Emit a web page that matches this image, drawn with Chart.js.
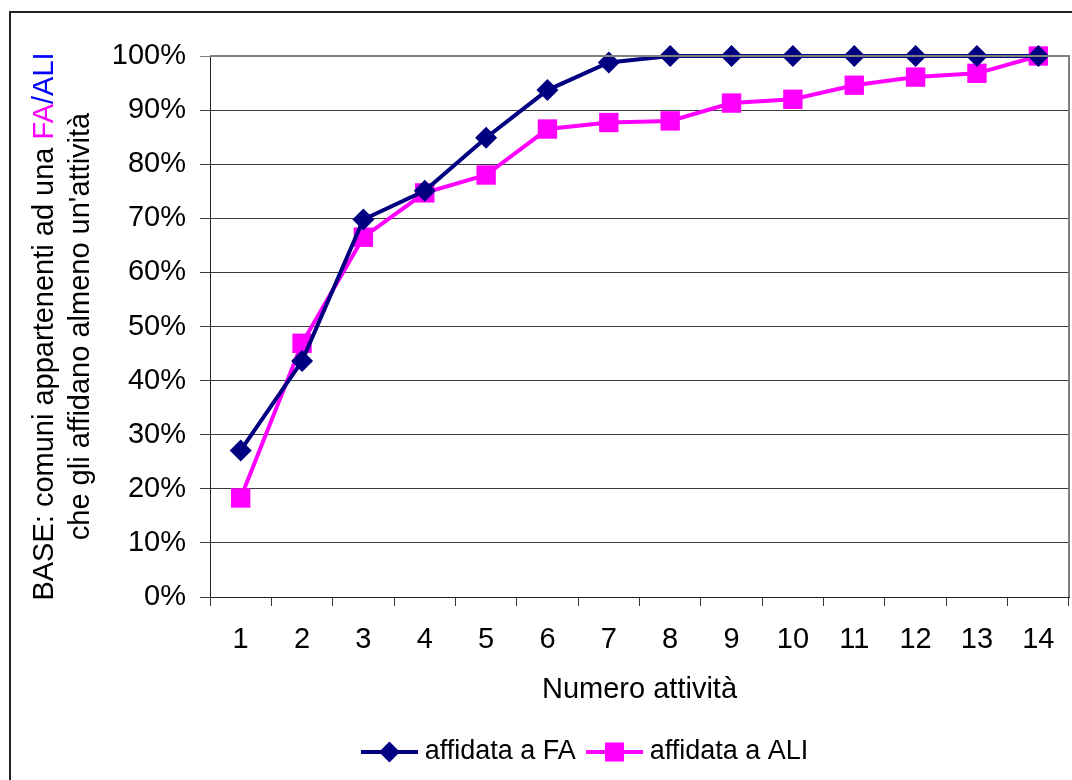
<!DOCTYPE html>
<html>
<head>
<meta charset="utf-8">
<script src="https://cdn.jsdelivr.net/npm/chart.js@4.4.1/dist/chart.umd.min.js"></script>
<style>
  html, body { margin: 0; padding: 0; background: #fff; overflow: hidden; }
  #wrap { position: relative; width: 1072px; height: 780px; overflow: hidden; }
  #frame { position: absolute; left: 9px; top: 11px; width: 1200px; height: 900px;
           border-left: 2px solid #222; border-top: 2px solid #222; }
  #c { position: absolute; left: 0; top: 0; }
</style>
</head>
<body>
<div id="wrap">
  <div id="frame"></div>
  <canvas id="c" width="1072" height="780"></canvas>
</div>
<script>
// Number of activities entrusted (x axis)
const categories = ['1', '2', '3', '4', '5', '6', '7', '8', '9', '10', '11', '12', '13', '14'];

// Cumulative share of municipalities (%)
const affidataFA  = [27.1, 43.6, 69.8, 75.1, 84.9, 93.7, 98.8, 100, 100, 100, 100, 100, 100, 100];
const affidataALI = [18.3, 46.9, 66.5, 74.7, 78.0, 86.5, 87.7, 88.0, 91.3, 92.0, 94.6, 96.1, 96.8, 100];

const seriesNames = ['affidata a FA', 'affidata a ALI'];
const xTitle = 'Numero attività';
// y axis title, split in coloured runs
const yTitleLines = [
  [ { text: 'BASE: comuni appartenenti ad una ', color: '#000000' },
    { text: 'FA', color: '#FF00FF' },
    { text: '/ALI', color: '#0000FF' } ],
  [ { text: "che gli affidano almeno un'attività", color: '#000000' } ]
];

const NAVY = '#000080';
const MAGENTA = '#FF00FF';
const FONT = '"Liberation Sans", Arial, Helvetica, sans-serif';
const FS = 29;        // axis ticks and titles
const FS_LEGEND = 27; // legend entries

// legend swatches: a short line with the series marker on it
function legendSwatch(color, shape) {
  const cv = document.createElement('canvas');
  cv.width = 64; cv.height = 24;
  const g = cv.getContext('2d');
  g.strokeStyle = color; g.lineWidth = 4;
  g.beginPath(); g.moveTo(7, 12); g.lineTo(64, 12); g.stroke();
  g.fillStyle = color;
  g.beginPath();
  const cx = 35.5;
  if (shape === 'diamond') {
    g.moveTo(cx, 1.5); g.lineTo(cx + 10.5, 12); g.lineTo(cx, 22.5); g.lineTo(cx - 10.5, 12);
  } else {
    g.rect(cx - 9.5, 2.5, 19, 19);
  }
  g.closePath(); g.fill();
  return cv;
}
const swatches = [legendSwatch(NAVY, 'diamond'), legendSwatch(MAGENTA, 'square')];

// rotated, multi-coloured y axis title plus the grey frame of the plot area
const framePlugin = {
  id: 'frameAndTitle',
  afterDraw(chart) {
    const { ctx, chartArea } = chart;
    ctx.save();
    ctx.strokeStyle = '#808080';
    ctx.lineWidth = 2;
    ctx.beginPath();
    ctx.moveTo(chartArea.left, chartArea.top);
    ctx.lineTo(chartArea.right, chartArea.top);
    ctx.lineTo(chartArea.right, chartArea.bottom);
    ctx.stroke();

    const cy = (chartArea.top + chartArea.bottom) / 2;
    const baselines = [53, 89];
    ctx.font = `${FS}px ${FONT}`;
    ctx.textBaseline = 'alphabetic';
    ctx.textAlign = 'left';
    yTitleLines.forEach((runs, i) => {
      const total = runs.reduce((w, r) => w + ctx.measureText(r.text).width, 0);
      ctx.save();
      ctx.translate(baselines[i], cy);
      ctx.rotate(-Math.PI / 2);
      let x = -total / 2;
      runs.forEach(r => {
        ctx.fillStyle = r.color;
        ctx.fillText(r.text, x, 0);
        x += ctx.measureText(r.text).width;
      });
      ctx.restore();
    });
    ctx.restore();
  }
};

new Chart(document.getElementById('c'), {
  type: 'line',
  data: {
    labels: categories,
    datasets: [
      {
        label: seriesNames[0],
        data: affidataFA,
        borderColor: NAVY,
        backgroundColor: NAVY,
        borderWidth: 4,
        pointStyle: 'rectRot',
        pointRadius: 11,
        pointHoverRadius: 11,
        pointBorderWidth: 0,
        tension: 0,
        clip: false
      },
      {
        label: seriesNames[1],
        data: affidataALI,
        borderColor: MAGENTA,
        backgroundColor: MAGENTA,
        borderWidth: 4,
        pointStyle: 'rect',
        pointRadius: 13.7,
        pointHoverRadius: 13.7,
        pointBorderWidth: 0,
        tension: 0,
        clip: false
      }
    ]
  },
  options: {
    responsive: false,
    animation: false,
    layout: { autoPadding: false, padding: { left: 100, right: 3, top: 56, bottom: 4.5 } },
    plugins: {
      tooltip: { enabled: false },
      legend: {
        position: 'bottom',
        labels: {
          usePointStyle: true,
          pointStyleWidth: 50.5,
          boxHeight: 24,
          padding: 10,
          color: '#000',
          font: { family: FONT, size: FS_LEGEND },
          generateLabels(chart) {
            return chart.data.datasets.map((ds, i) => ({
              text: ds.label,
              pointStyle: swatches[i],
              fillStyle: ds.backgroundColor,
              strokeStyle: ds.borderColor,
              lineWidth: 0,
              hidden: false,
              datasetIndex: i
            }));
          }
        }
      }
    },
    scales: {
      x: {
        offset: true,
        afterFit(scale) {
          scale.height = 131.5;
          scale.paddingLeft = 0;
          scale.paddingRight = 0;
        },
        grid: { offset: true, drawOnChartArea: false, tickLength: 9, color: '#333', lineWidth: 1 },
        border: { color: '#222', width: 1 },
        ticks: { color: '#000', padding: 17, font: { family: FONT, size: FS }, maxRotation: 0 },
        title: {
          display: true, text: xTitle, color: '#000',
          font: { family: FONT, size: FS }, padding: { top: 8, bottom: 21 }
        }
      },
      y: {
        min: 0, max: 100,
        afterFit(scale) {
          scale.width = 110;
          scale.paddingTop = 0;
          scale.paddingBottom = 0;
        },
        grid: {
          tickLength: 10,
          color: ctx => (ctx.tick && ctx.tick.value === 100 ? '#808080' : '#3a3a3a'),
          lineWidth: 1
        },
        border: { color: '#222', width: 1 },
        ticks: {
          stepSize: 10,
          padding: 14,
          color: '#000',
          font: { family: FONT, size: FS },
          callback: v => v + '%'
        }
      }
    }
  },
  plugins: [framePlugin]
});
</script>
</body>
</html>
